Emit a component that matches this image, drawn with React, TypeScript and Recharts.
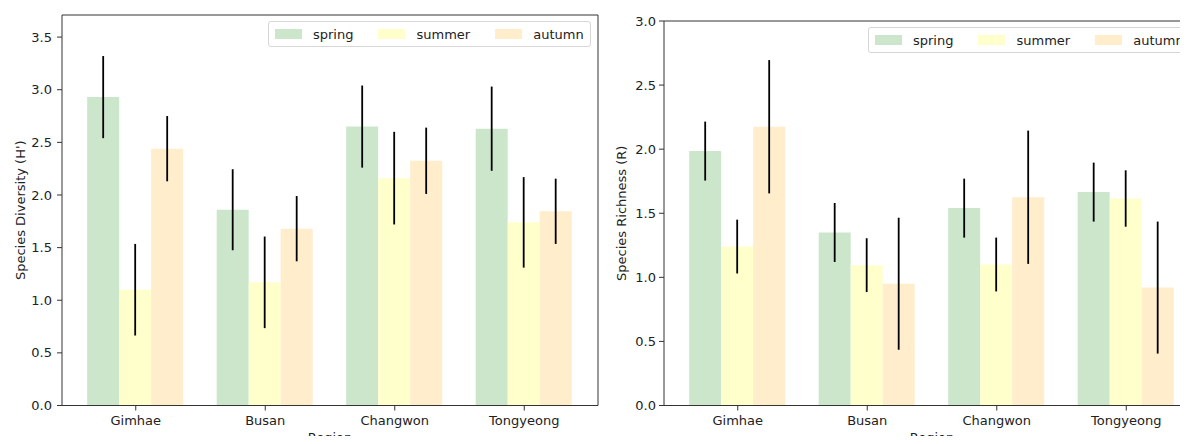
import React from 'react';
import { ComposedChart, Bar, XAxis, YAxis, ErrorBar, Legend } from 'recharts';

const regions = ['Gimhae', 'Busan', 'Changwon', 'Tongyeong'];
const seasons = ['spring', 'summer', 'autumn'];
const seasonColors = ['#cce6cc', '#ffffcc', '#ffedcc'];

const diversitySpring = [2.93, 1.86, 2.65, 2.63];
const diversitySpringErr = [0.39, 0.385, 0.39, 0.4];
const diversitySummer = [1.1, 1.17, 2.16, 1.74];
const diversitySummerErr = [0.435, 0.435, 0.44, 0.43];
const diversityAutumn = [2.44, 1.68, 2.325, 1.845];
const diversityAutumnErr = [0.31, 0.31, 0.315, 0.31];

const richnessSpring = [1.985, 1.35, 1.54, 1.665];
const richnessSpringErr = [0.23, 0.23, 0.23, 0.23];
const richnessSummer = [1.24, 1.095, 1.1, 1.615];
const richnessSummerErr = [0.21, 0.21, 0.21, 0.22];
const richnessAutumn = [2.175, 0.95, 1.625, 0.92];
const richnessAutumnErr = [0.52, 0.515, 0.52, 0.515];

const diversityTicks = [0, 0.5, 1.0, 1.5, 2.0, 2.5, 3.0, 3.5];
const richnessTicks = [0, 0.5, 1.0, 1.5, 2.0, 2.5, 3.0];

const buildData = (s: number[], se: number[], u: number[], ue: number[], a: number[], ae: number[]) =>
  regions.map((region, i) => ({
    region,
    spring: s[i],
    springErr: se[i],
    summer: u[i],
    summerErr: ue[i],
    autumn: a[i],
    autumnErr: ae[i],
  }));

const diversityData = buildData(
  diversitySpring, diversitySpringErr, diversitySummer, diversitySummerErr, diversityAutumn, diversityAutumnErr
);
const richnessData = buildData(
  richnessSpring, richnessSpringErr, richnessSummer, richnessSummerErr, richnessAutumn, richnessAutumnErr
);

const AXIS = '#333';
const TEXT = '#222';
const CHART_W = 620;
const CHART_H = 444;
const X_AXIS_H = 38.5;

const LegendBox = (props: any) => {
  const payload = [...(props.payload || [])].sort(
    (a: any, b: any) => seasons.indexOf(a.value) - seasons.indexOf(b.value)
  );
  return (
    <div
      style={{
        display: 'flex',
        alignItems: 'center',
        height: 24,
        border: '1px solid #d6d6d6',
        borderRadius: 3,
        background: 'rgba(255,255,255,0.8)',
        padding: '0 6px',
        fontSize: 13,
        color: TEXT,
        whiteSpace: 'nowrap',
      }}
    >
      {payload.map((p: any, i: number) => (
        <div key={i} style={{ display: 'flex', alignItems: 'center', marginRight: i < payload.length - 1 ? 25 : 0 }}>
          <span style={{ display: 'inline-block', width: 27, height: 10, background: p.color, marginRight: 11 }} />
          <span>{p.value}</span>
        </div>
      ))}
    </div>
  );
};

type PanelProps = {
  data: any[];
  ticks: number[];
  domainMax: number;
  yLabel: string;
  left: number;
  marginTop: number;
  marginRight: number;
  yAxisWidth: number;
  yTickMargin: number;
  yLabelX: number;
  legendTop: number;
  legendLeft: number;
};

const Panel = (p: PanelProps) => {
  const plotX = p.yAxisWidth;
  const plotY = p.marginTop;
  const plotW = CHART_W - p.yAxisWidth - p.marginRight;
  const plotH = CHART_H - p.marginTop - X_AXIS_H;
  const renderYLabel = () => {
    const x = p.yLabelX;
    const y = plotY + plotH / 2;
    return (
      <text
        x={x}
        y={y}
        transform={`rotate(-90, ${x}, ${y})`}
        textAnchor="middle"
        dominantBaseline="central"
        fontSize={13}
        fill={TEXT}
      >
        {p.yLabel}
      </text>
    );
  };
  const renderXLabel = () => (
    <text x={plotX + plotW / 2} y={CHART_H - 2.5} textAnchor="middle" fontSize={13} fill={TEXT}>
      Region
    </text>
  );
  return (
    <div style={{ position: 'absolute', left: p.left, top: 0, width: CHART_W, height: CHART_H }}>
      <ComposedChart
        width={CHART_W}
        height={CHART_H}
        data={p.data}
        margin={{ top: p.marginTop, right: p.marginRight, bottom: 0, left: 0 }}
        barCategoryGap="12.5%"
        barGap={0}
      >
        <XAxis
          dataKey="region"
          height={X_AXIS_H}
          padding={{ left: 9, right: 9 }}
          tickSize={5}
          tickMargin={5}
          axisLine={{ stroke: AXIS, strokeWidth: 1 }}
          tickLine={{ stroke: AXIS }}
          tick={{ fill: TEXT, fontSize: 13 }}
          label={renderXLabel}
        />
        <YAxis
          width={p.yAxisWidth}
          domain={[0, p.domainMax]}
          ticks={p.ticks}
          allowDataOverflow
          tickSize={5}
          tickMargin={p.yTickMargin}
          tickFormatter={(v: number) => v.toFixed(1)}
          axisLine={{ stroke: AXIS, strokeWidth: 1 }}
          tickLine={{ stroke: AXIS }}
          tick={{ fill: TEXT, fontSize: 13 }}
          label={renderYLabel}
        />
        {seasons.map((s, i) => (
          <Bar key={s} dataKey={s} name={s} fill={seasonColors[i]} isAnimationActive={false}>
            <ErrorBar dataKey={`${s}Err`} width={0} stroke="#000" strokeWidth={1.8} direction="y" />
          </Bar>
        ))}
        <Legend
          layout="horizontal"
          verticalAlign="middle"
          align="center"
          content={<LegendBox />}
          wrapperStyle={{ top: p.legendTop, left: p.legendLeft, width: 'auto', height: 'auto', zIndex: 2 }}
        />
      </ComposedChart>
      <svg
        width={CHART_W}
        height={CHART_H}
        style={{ position: 'absolute', left: 0, top: 0, pointerEvents: 'none', zIndex: 1 }}
      >
        <path
          d={`M${plotX},${plotY} H${plotX + plotW} V${plotY + plotH}`}
          fill="none"
          stroke={AXIS}
          strokeWidth={1}
        />
      </svg>
    </div>
  );
};

export default function App() {
  return (
    <div
      style={{
        position: 'relative',
        width: 1188,
        height: 444,
        margin: -8,
        overflow: 'hidden',
        background: '#fff',
        fontFamily: '"DejaVu Sans", sans-serif',
      }}
    >
      <Panel
        data={diversityData}
        ticks={diversityTicks}
        domainMax={3.71}
        yLabel="Species Diversity (H')"
        left={0}
        marginTop={15}
        marginRight={22}
        yAxisWidth={62}
        yTickMargin={5}
        yLabelX={20}
        legendTop={21}
        legendLeft={268}
      />
      <Panel
        data={richnessData}
        ticks={richnessTicks}
        domainMax={3.0}
        yLabel="Species Richness (R)"
        left={600}
        marginTop={21}
        marginRight={20}
        yAxisWidth={64}
        yTickMargin={3}
        yLabelX={21.7}
        legendTop={27}
        legendLeft={268}
      />
    </div>
  );
}
